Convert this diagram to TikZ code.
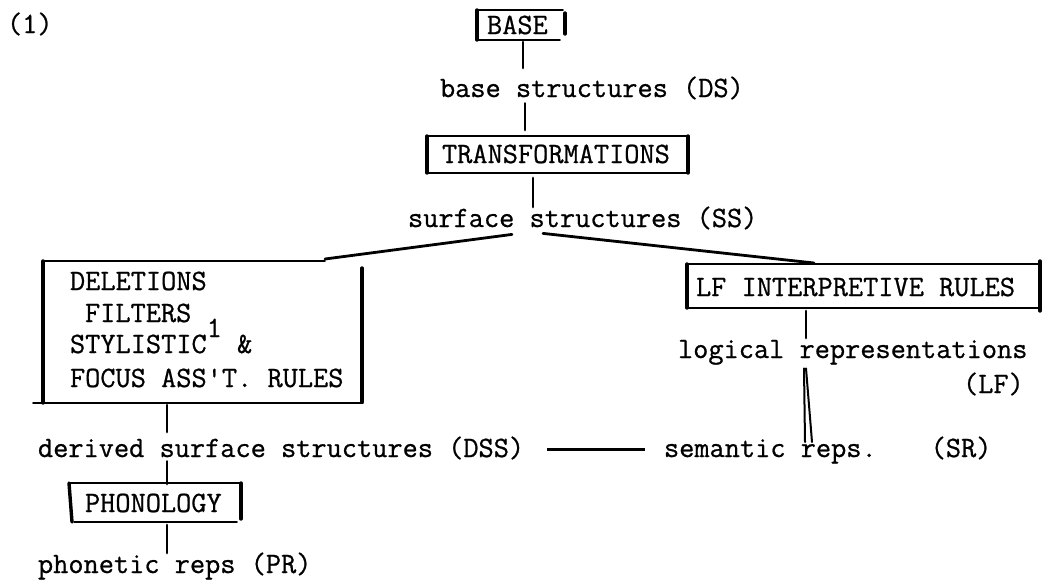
\documentclass[tikz,border=0pt]{standalone}
\usetikzlibrary{calc}
\newcommand\inkon{\special{pdf:literal direct 2 Tr 0.22 w}}
\newcommand\tyfont{\fontsize{29.5}{32}\selectfont\ttfamily\inkon}
\tikzset{
  txt/.style={anchor=base west, inner sep=0pt, outer sep=0pt, font=\tyfont, text height=22pt, text depth=7.4pt},
  boxn/.style={anchor=north west, inner sep=0pt, outer sep=0pt},
  rule/.style={line width=1.9pt, line cap=round},
  side/.style={line width=3.4pt, line cap=round},
  conn/.style={line width=2.8pt, line cap=round},
  dashln/.style={line width=3.4pt},
}
\begin{document}
\begin{tikzpicture}[x=1pt,y=-1pt]
\useasboundingbox (0,0) rectangle (1049,582);

% texts
\node[txt] (n1)   at (7,33)    {(1)};
\node[txt] (BASEt) at (487,34) {BASE};
\node[txt] (bs)   at (440,97)  {base structures (DS)};
\node[txt] (TRt)  at (442,163) {TRANSFORMATIONS};
\node[txt] (ss)   at (408,227) {surface structures (SS)};
\node[txt] (del1) at (70,290)  {DELETIONS};
\node[txt] (del2) at (85,322)  {FILTERS};
\node[txt] (del3) at (70,353)  {STYLISTIC\raisebox{16pt}{1}\ \&};
\node[txt] (del4) at (70,387)  {FOCUS ASS'T. RULES};
\node[txt] (LFt)  at (696,296) {LF INTERPRETIVE RULES};
\node[txt] (lr)   at (678,358) {logical representations};
\node[txt] (lf)   at (963,393) {(LF)};
\node[txt] (dss)  at (38,457)  {derived surface structures (DSS)};
\node[txt] (sr)   at (664,457) {semantic reps.\hspace*{54pt}(SR)};
\node[txt] (PHt)  at (85,512)  {PHONOLOGY};
\node[txt] (pr)   at (38,573)  {phonetic reps (PR)};

% boxes
\node[boxn, minimum width=88pt,  minimum height=30pt]  (BASE) at (477,10)  {};
\node[boxn, minimum width=261pt, minimum height=37pt]  (TR)   at (427,136) {};
\node[boxn, minimum width=319pt, minimum height=142pt] (DEL)  at (43,261)  {};
\node[boxn, minimum width=353pt, minimum height=44pt]  (LF)   at (687,264) {};
\node[boxn, minimum width=172pt, minimum height=39pt]  (PH)   at (69,483)  {};

% BASE box
\draw[rule] (BASE.north west) -- ($(BASE.north east)+(-2,0)$);
\draw[rule] (BASE.south west) -- ($(BASE.south east)+(-5,0)$);
\draw[side] (BASE.north west) -- (BASE.south west);
\draw[side] ($(BASE.north east)+(0,3)$) -- ($(BASE.south east)+(0,-6)$);
% TRANSFORMATIONS box
\draw[rule] (TR.north west) -- (TR.north east);
\draw[rule] (TR.south west) -- (TR.south east);
\draw[side] (TR.north west) -- (TR.south west);
\draw[side] (TR.north east) -- (TR.south east);
% DELETIONS box
\draw[rule] (DEL.north west) -- ($(DEL.north east)+(-37,0)$);
\draw[rule] ($(DEL.south west)+(-10,0)$) -- ($(DEL.south east)+(1,0)$);
\draw[side] (DEL.north west) -- (DEL.south west);
\draw[side] ($(DEL.north east)+(0,7)$) -- ($(DEL.south east)+(0,-1)$);
% LF box
\draw[rule] (LF.north west) -- (LF.north east);
\draw[rule] (LF.south west) -- (LF.south east);
\draw[side] (LF.north west) -- (LF.south west);
\draw[side] ($(LF.north east)+(0,-3)$) -- ($(LF.south east)+(0,3)$);
% PHONOLOGY box
\draw[rule] (PH.north west) -- (PH.north east);
\draw[rule] ($(PH.south west)+(5,0)$) -- ($(PH.south east)+(-4,0)$);
\draw[side] (PH.north west) -- ($(PH.south west)+(3,0)$);
\draw[side] (PH.north east) -- ($(PH.south east)+(0,-3)$);

% connectors
\draw[conn] ($(BASE.south)+(2,2)$) -- ($(BASE.south |- bs.north)+(2,-7)$);
\draw[conn] ($(TR.north)+(-32.5,-6)$) -- ($(TR.north |- bs.south)+(-32.5,-1)$);
\draw[conn] ($(TR.south)+(-24.5,5)$) -- ($(TR.south |- ss.north)+(-24.5,2)$);
\draw[conn] ($(ss.south west)+(104,0)$) -- ($(DEL.north east)+(-37,-2)$);
\draw[conn] ($(ss.south west)+(135,-1)$) -- ($(LF.north)+(-49.5,-1)$);
\draw[conn] ($(LF.south)+(-57.5,3)$) -- ($(LF.south |- lr.north)+(-57.5,2)$);
\draw[conn, line width=2pt] ($(lr.south west)+(126,3)$) -- ($(sr.north west)+(141,7)$);
\draw[conn, line width=2pt] ($(lr.south west)+(128,3)$) -- ($(sr.north west)+(148,7)$);
\draw[dashln, shorten <=23pt, shorten >=19pt] (dss.east) -- (sr.west);
\draw[conn] ($(DEL.south)+(-35.5,2)$) -- ($(DEL.south |- dss.north)+(-35.5,-3)$);
\draw[conn] ($(PH.north |- dss.south)+(12,-3)$) -- ($(PH.north)+(12,1)$);
\draw[conn] ($(PH.south)+(12,3)$) -- ($(PH.south |- pr.north)+(12,2)$);
\end{tikzpicture}
\end{document}
